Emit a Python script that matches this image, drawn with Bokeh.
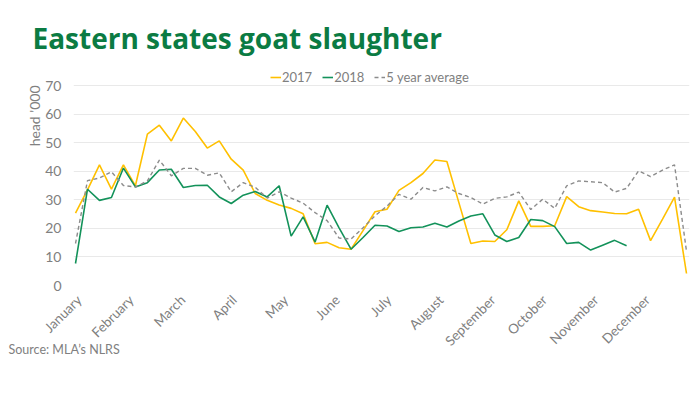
from math import pi
from bokeh.plotting import figure
from bokeh.models import Range1d, FixedTicker, Legend, LegendItem, Title
from bokeh.embed import file_html
from bokeh.resources import INLINE

# ---- data (head '000, weekly) ----
weeks = list(range(52))
slaughter_2017 = [25.3, 33.5, 42.2, 33.7, 42.2, 34.9, 53.0, 56.1, 50.6, 58.6,
                  53.9, 48.1, 50.6, 44.2, 40.4, 32.2, 29.8, 28.2, 27.0, 25.1,
                  14.6, 15.1, 13.2, 12.7, 19.2, 25.8, 26.7, 33.3, 36.0, 39.2,
                  43.9, 43.4, 29.0, 14.7, 15.6, 15.4, 19.5, 29.6, 20.7, 20.7,
                  20.9, 31.1, 27.6, 26.2, 25.7, 25.2, 25.1, 26.7, 15.7, 23.2,
                  30.9, 4.2]
slaughter_2018 = [7.7, 33.7, 29.8, 30.8, 41.1, 34.5, 36.0, 40.4, 40.7, 34.3,
                  35.0, 35.1, 31.0, 28.7, 31.6, 32.9, 31.0, 34.9, 17.3, 24.0,
                  15.2, 28.1, 20.2, 12.7, 16.8, 21.1, 20.8, 18.9, 20.2, 20.5,
                  21.8, 20.5, 22.6, 24.3, 25.1, 17.7, 15.4, 16.8, 23.1, 22.7,
                  20.6, 14.7, 15.1, 12.4, 14.1, 15.8, 13.9]
avg_5yr = [14.7, 36.7, 37.6, 39.8, 35.0, 34.5, 36.6, 43.9, 38.4, 41.0,
           41.0, 38.6, 39.4, 32.8, 36.0, 34.4, 30.6, 32.8, 30.6, 28.8,
           25.5, 22.7, 16.6, 16.3, 20.2, 24.4, 27.8, 31.9, 30.2, 34.3,
           33.1, 34.5, 32.2, 30.8, 28.5, 30.5, 31.0, 32.7, 26.6, 30.2,
           27.0, 34.9, 36.6, 36.3, 36.0, 32.7, 34.0, 40.1, 38.1, 40.4,
           42.2, 12.0]
month_labels = ["January", "February", "March", "April", "May", "June", "July",
                "August", "September", "October", "November", "December"]
month_ticks = [0.3, 4.65, 8.95, 13.25, 17.55, 21.85, 26.15, 30.5, 34.85, 39.15, 43.45, 47.75]
y_ticks = [0, 10, 20, 30, 40, 50, 60, 70]

FONT = "Lato"
GREY = "#808080"

# frame reaches above the 70 gridline so the legend can sit inside it
p = figure(width=692, height=385, output_backend="svg", toolbar_location=None,
           x_range=Range1d(-0.167, 51.25), y_range=Range1d(0, 78.05),
           min_border_left=73, min_border_right=3, min_border_top=62,
           min_border_bottom=100)
p.outline_line_color = None
p.background_fill_color = "white"
p.border_fill_color = "white"

r17 = p.line(weeks, slaughter_2017, line_color="#FFC000", line_width=1.6)
r18 = p.line(weeks[:len(slaughter_2018)], slaughter_2018, line_color="#13925a", line_width=1.6)
ravg = p.line(weeks, avg_5yr, line_color="#8c8c8c", line_width=1.4, line_dash="4 3")

# axes
p.xgrid.grid_line_color = None
p.ygrid.grid_line_color = "#e9e9e9"
p.ygrid.grid_line_width = 1
p.yaxis.ticker = FixedTicker(ticks=y_ticks)
p.xaxis.ticker = FixedTicker(ticks=month_ticks)
p.xaxis.major_label_overrides = {t: m for t, m in zip(month_ticks, month_labels)}
p.xaxis.major_label_orientation = pi / 4
for ax in (p.xaxis, p.yaxis):
    ax.axis_line_color = None
    ax.major_tick_line_color = None
    ax.minor_tick_line_color = None
    ax.major_label_text_font = FONT
    ax.major_label_text_color = GREY
p.yaxis.major_label_text_font_size = "14px"
p.yaxis.major_label_standoff = 6
p.xaxis.major_label_text_font_size = "13.5px"
p.xaxis.major_label_standoff = 6

# legend at the top of the frame
legend = Legend(items=[LegendItem(label="2017", renderers=[r17]),
                       LegendItem(label="2018", renderers=[r18]),
                       LegendItem(label="5 year average", renderers=[ravg])],
                orientation="horizontal", location=(197, 200),
                glyph_width=11, glyph_height=14, label_height=14,
                label_standoff=1, spacing=10, padding=0, margin=0,
                border_line_color=None, background_fill_alpha=0,
                label_text_font=FONT, label_text_font_size="13px",
                label_text_color=GREY)
p.add_layout(legend)

# title
p.title.text = "Eastern states goat slaughter"
p.title.text_font = "Open Sans"
p.title.text_font_style = "bold"
p.title.text_font_size = "28px"
p.title.text_color = "#0b7b43"
p.title.align = "left"
p.title.offset = -41
p.title.standoff = 12

# y axis label at top of the axis
p.add_layout(Title(text="head '000", align="right", offset=23, text_font=FONT,
                   text_font_size="14px", text_font_style="normal",
                   text_color=GREY, standoff=0), "left")

# source note
p.add_layout(Title(text="Source: MLA\u2019s NLRS", align="left", offset=-65,
                   vertical_align="top",
                   text_font=FONT, text_font_size="12.5px",
                   text_font_style="normal", text_color=GREY, standoff=-32), "below")

open("out.html", "w").write(file_html(p, INLINE))
